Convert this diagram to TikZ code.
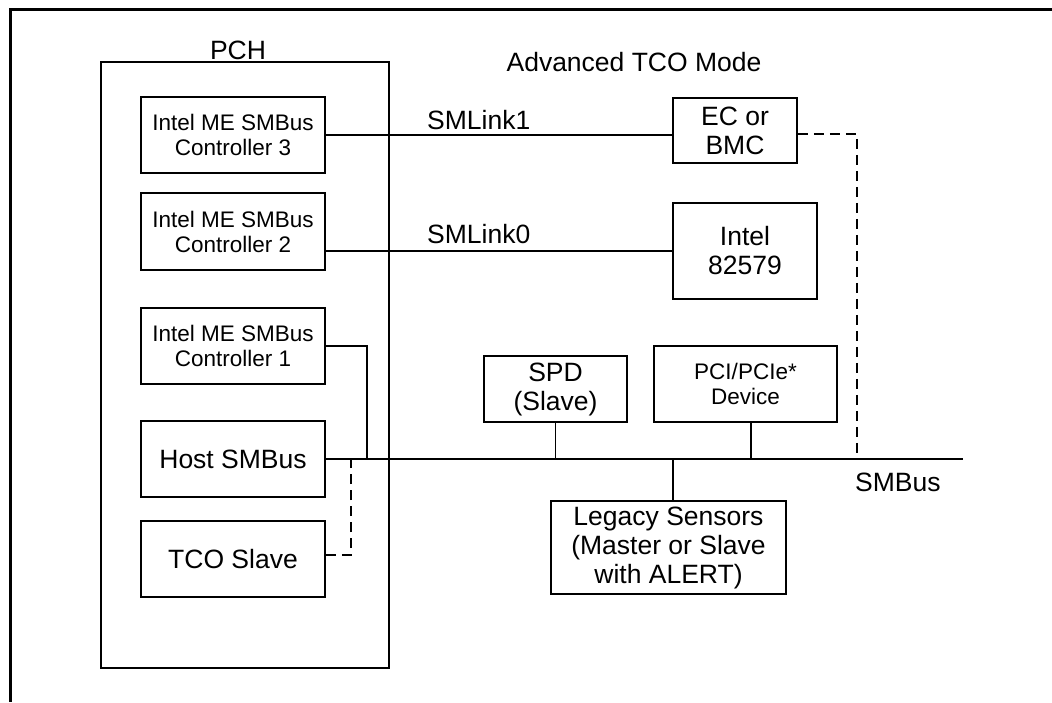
\documentclass[tikz,border=0pt]{standalone}
\usepackage{fontspec}
\setmainfont{Liberation Sans}
\newcommand\bigf{\fontsize{26.5}{29}\selectfont}
\newcommand\smallf{\fontsize{22.5}{25}\selectfont}
\begin{document}
\begin{tikzpicture}[x=1pt,y=-1pt,
  box/.style={draw, line width=1.6pt, inner sep=0pt, align=center, font=\bigf},
  sbox/.style={box, font=\smallf},
  wire/.style={line width=1.3pt},
  dwire/.style={line width=2.2pt, dash pattern=on 10pt off 6pt},
  lbl/.style={inner sep=0pt, font=\bigf}]
\useasboundingbox (0,0) rectangle (1052,702);
\fill[white] (0,0) rectangle (1052,702);
% outer frame
\draw[line width=3pt] (1052,9) -- (10,9) -- (10,702);
% PCH
\node[box, minimum width=288pt, minimum height=606pt] (pch) at (245,365) {};
\node[lbl, anchor=base] (pchl) at (238,59) {PCH};
\node[sbox, minimum width=184pt, minimum height=76pt] (c3) at (233,135) {Intel ME SMBus\\Controller 3};
\node[sbox, minimum width=184pt, minimum height=77pt] (c2) at (233,231.5) {Intel ME SMBus\\Controller 2};
\node[sbox, minimum width=184pt, minimum height=76pt] (c1) at (233,346) {Intel ME SMBus\\Controller 1};
\node[box, minimum width=184pt, minimum height=76pt] (host) at (233,459) {Host SMBus};
\node[box, minimum width=184pt, minimum height=76pt] (tco) at (233,559) {TCO Slave};
% right side
\node[lbl, anchor=base] (title) at (634,71) {Advanced TCO Mode};
\node[box, minimum width=124pt, minimum height=65pt] (ec) at (735,130.5) {EC or\\BMC};
\node[box, minimum width=144pt, minimum height=96pt] (intel) at (745,251) {Intel\\82579};
\node[box, minimum width=143pt, minimum height=66pt] (spd) at (555.5,389) {SPD\\(Slave)};
\node[sbox, minimum width=183pt, minimum height=76pt] (pci) at (745.5,384) {PCI/PCIe*\\Device};
\node[box, minimum width=235pt, minimum height=93pt] (leg) at (668.5,547.5) {Legacy Sensors\\(Master or Slave\\with ALERT)};
\node[lbl, anchor=base west] (sml1) at (427,129) {SMLink1};
\node[lbl, anchor=base west] (sml0) at (427,243) {SMLink0};
\node[lbl, anchor=base west] (smb) at (855,491) {SMBus};
% junctions
\coordinate (busend) at (963,459);
\coordinate (j1) at (367,459);
\coordinate (j2) at (351,459);
\coordinate (j3) at (857,459);
% links
\draw[wire] (c3.east) -- (c3.east -| ec.west);
\draw[wire] (intel.west -| c2.east) -- (intel.west);
\draw[wire] (host.east) -- (busend);
\draw[wire] (c1.east) -| (j1);
\draw[dwire] ([yshift=4pt]tco.east) -| (j2);
\draw[dwire] ([yshift=-3.5pt]ec.east) -| (j3);
\draw[wire] (spd.south) -- (spd.south |- busend);
\draw[wire] ([xshift=5.5pt]pci.south) -- ([xshift=5.5pt]pci.south |- busend);
\draw[wire] ([xshift=4.5pt]leg.north) -- ([xshift=4.5pt]leg.north |- busend);
\end{tikzpicture}
\end{document}
